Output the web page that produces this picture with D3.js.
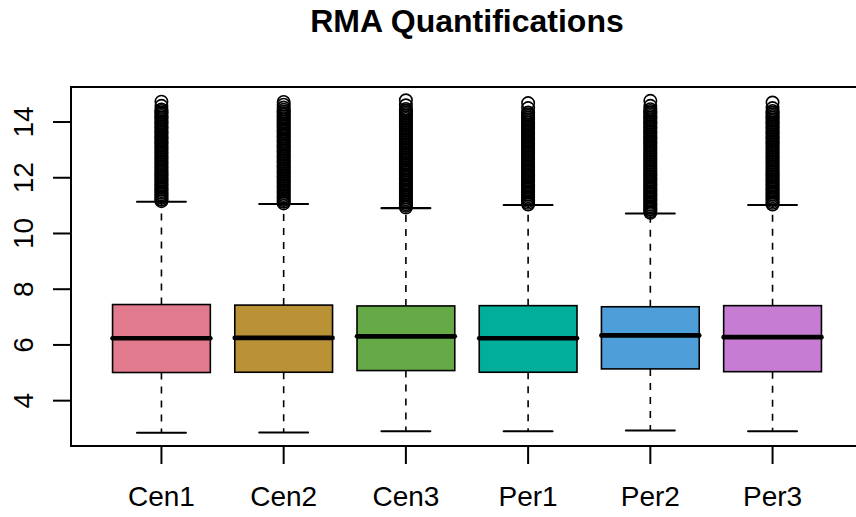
<!DOCTYPE html>
<html>
<head>
<meta charset="utf-8">
<script src="https://cdn.jsdelivr.net/npm/d3@7"></script>
<style>
  body { margin: 0; background: white; }
  svg { display: block; font-family: "Liberation Sans", Arial, Helvetica, sans-serif; }
</style>
</head>
<body>
<svg></svg>
<script>
var samples = ["Cen1", "Cen2", "Cen3", "Per1", "Per2", "Per3"];
var fills = ["#E27A8E", "#B99136", "#65AA47", "#00AE9B", "#4E9EDA", "#C67CD3"];

// box stats
var lowerWhisker = [2.85, 2.86, 2.90, 2.90, 2.93, 2.90];
var q1 = [5.01, 5.02, 5.08, 5.02, 5.14, 5.04];
var medians = [6.24, 6.25, 6.31, 6.24, 6.34, 6.28];
var q3 = [7.45, 7.43, 7.40, 7.41, 7.37, 7.41];
var upperWhisker = [11.14, 11.06, 10.91, 11.02, 10.72, 11.02];

var yTicks = [4, 6, 8, 10, 12, 14];

// outliers (dense column above each upper whisker)
var outCen1 = [11.16,11.22,11.28,11.34,11.40,11.46,11.52,11.58,11.64,11.70,11.76,11.82,11.88,11.94,12.00,12.06,12.12,12.18,12.24,12.30,12.36,12.42,12.48,12.54,12.60,12.66,12.72,12.78,12.84,12.90,12.96,13.02,13.08,13.14,13.20,13.26,13.32,13.38,13.44,13.50,13.56,13.62,13.68,13.74,13.80,13.86,13.92,13.98,14.04,14.10,14.16,14.22,14.28,14.34,14.40,14.45,14.58,14.73];
var outCen2 = [11.08,11.14,11.20,11.26,11.32,11.38,11.44,11.50,11.56,11.62,11.68,11.74,11.80,11.86,11.92,11.98,12.04,12.10,12.16,12.22,12.28,12.34,12.40,12.46,12.52,12.58,12.64,12.70,12.76,12.82,12.88,12.94,13.00,13.06,13.12,13.18,13.24,13.30,13.36,13.42,13.48,13.54,13.60,13.66,13.72,13.78,13.84,13.90,13.96,14.02,14.08,14.14,14.20,14.26,14.32,14.38,14.44,14.52,14.62,14.72];
var outCen3 = [10.93,10.99,11.05,11.11,11.17,11.23,11.29,11.35,11.41,11.47,11.53,11.59,11.65,11.71,11.77,11.83,11.89,11.95,12.01,12.07,12.13,12.19,12.25,12.31,12.37,12.43,12.49,12.55,12.61,12.67,12.73,12.79,12.85,12.91,12.97,13.03,13.09,13.15,13.21,13.27,13.33,13.39,13.45,13.51,13.57,13.63,13.69,13.75,13.81,13.87,13.93,13.99,14.05,14.11,14.17,14.23,14.29,14.35,14.41,14.47,14.60,14.78];
var outPer1 = [11.04,11.10,11.16,11.22,11.28,11.34,11.40,11.46,11.52,11.58,11.64,11.70,11.76,11.82,11.88,11.94,12.00,12.06,12.12,12.18,12.24,12.30,12.36,12.42,12.48,12.54,12.60,12.66,12.72,12.78,12.84,12.90,12.96,13.02,13.08,13.14,13.20,13.26,13.32,13.38,13.44,13.50,13.56,13.62,13.68,13.74,13.80,13.86,13.92,13.98,14.04,14.10,14.16,14.22,14.28,14.34,14.50,14.68];
var outPer2 = [10.74,10.80,10.86,10.92,10.98,11.04,11.10,11.16,11.22,11.28,11.34,11.40,11.46,11.52,11.58,11.64,11.70,11.76,11.82,11.88,11.94,12.00,12.06,12.12,12.18,12.24,12.30,12.36,12.42,12.48,12.54,12.60,12.66,12.72,12.78,12.84,12.90,12.96,13.02,13.08,13.14,13.20,13.26,13.32,13.38,13.44,13.50,13.56,13.62,13.68,13.74,13.80,13.86,13.92,13.98,14.04,14.10,14.16,14.22,14.28,14.34,14.40,14.46,14.58,14.76];
var outPer3 = [11.04,11.10,11.16,11.22,11.28,11.34,11.40,11.46,11.52,11.58,11.64,11.70,11.76,11.82,11.88,11.94,12.00,12.06,12.12,12.18,12.24,12.30,12.36,12.42,12.48,12.54,12.60,12.66,12.72,12.78,12.84,12.90,12.96,13.02,13.08,13.14,13.20,13.26,13.32,13.38,13.44,13.50,13.56,13.62,13.68,13.74,13.80,13.86,13.92,13.98,14.04,14.10,14.16,14.22,14.28,14.34,14.40,14.50,14.70];
var outliers = [outCen1, outCen2, outCen3, outPer1, outPer2, outPer3];

var width = 856, height = 517;
var plot = {left: 71, right: 863, top: 87, bottom: 446};

var svg = d3.select("svg").attr("width", width).attr("height", height);

// R style limits: data range padded by 4%
var yMin = d3.min(lowerWhisker), yMax = d3.max(outliers, function(o){ return d3.max(o); });
var pad = (yMax - yMin) * 0.04;
var y = d3.scaleLinear()
    .domain([yMin - pad, yMax + pad])
    .range([plot.bottom, plot.top]);

var n = samples.length;
var xPad = n * 0.04;
var x = d3.scaleLinear()
    .domain([0.5 - xPad, n + 0.5 + xPad])
    .range([plot.left, plot.right]);

var unit = x(2) - x(1);
var boxW = unit * 0.8;
var capW = boxW * 0.5;
var lw = 1.6;

var boxes = svg.append("g").selectAll("g")
  .data(samples).enter()
  .append("g");

boxes.each(function(d, i) {
  var g = d3.select(this);
  var cx = x(i + 1);

  // whiskers
  g.append("line")
    .attr("x1", cx).attr("x2", cx)
    .attr("y1", y(q3[i])).attr("y2", y(upperWhisker[i]))
    .attr("stroke", "black").attr("stroke-width", lw)
    .attr("stroke-dasharray", "7,7");
  g.append("line")
    .attr("x1", cx).attr("x2", cx)
    .attr("y1", y(q1[i])).attr("y2", y(lowerWhisker[i]))
    .attr("stroke", "black").attr("stroke-width", lw)
    .attr("stroke-dasharray", "7,7");

  // staples
  [upperWhisker[i], lowerWhisker[i]].forEach(function(v) {
    g.append("line")
      .attr("x1", cx - capW / 2).attr("x2", cx + capW / 2)
      .attr("y1", y(v)).attr("y2", y(v))
      .attr("stroke", "black").attr("stroke-width", lw * 1.3)
      .attr("stroke-linecap", "round");
  });

  g.append("rect")
    .attr("x", cx - boxW / 2)
    .attr("y", y(q3[i]))
    .attr("width", boxW)
    .attr("height", y(q1[i]) - y(q3[i]))
    .attr("fill", fills[i])
    .attr("stroke", "black")
    .attr("stroke-width", lw);

  g.append("line")
    .attr("x1", cx - boxW / 2).attr("x2", cx + boxW / 2)
    .attr("y1", y(medians[i])).attr("y2", y(medians[i]))
    .attr("stroke", "black").attr("stroke-width", 4.7)
    .attr("stroke-linecap", "round");

  g.selectAll("circle")
    .data(outliers[i]).enter()
    .append("circle")
    .attr("cx", cx)
    .attr("cy", function(v){ return y(v); })
    .attr("r", 6.2)
    .attr("fill", "none")
    .attr("stroke", "black")
    .attr("stroke-width", lw);
});

// frame
svg.append("rect")
  .attr("x", plot.left).attr("y", plot.top)
  .attr("width", plot.right - plot.left)
  .attr("height", plot.bottom - plot.top)
  .attr("fill", "none")
  .attr("stroke", "black")
  .attr("stroke-width", 2);

// y axis
var yAxis = svg.append("g");
yAxis.append("line")
  .attr("x1", plot.left).attr("x2", plot.left)
  .attr("y1", y(yTicks[0])).attr("y2", y(yTicks[yTicks.length - 1]))
  .attr("stroke", "black").attr("stroke-width", 2);
yAxis.selectAll(".tick")
  .data(yTicks).enter()
  .append("line")
  .attr("x1", plot.left - 18).attr("x2", plot.left)
  .attr("y1", function(d){ return y(d); }).attr("y2", function(d){ return y(d); })
  .attr("stroke", "black").attr("stroke-width", 2);
yAxis.selectAll("text")
  .data(yTicks).enter()
  .append("text")
  .attr("transform", function(d){ return "translate(33," + y(d) + ")rotate(-90)"; })
  .attr("text-anchor", "middle")
  .style("font-size", "28px")
  .text(function(d){ return d; });

// x axis
var xAxis = svg.append("g");
xAxis.selectAll("line")
  .data(samples).enter()
  .append("line")
  .attr("x1", function(d, i){ return x(i + 1); })
  .attr("x2", function(d, i){ return x(i + 1); })
  .attr("y1", plot.bottom).attr("y2", plot.bottom + 18)
  .attr("stroke", "black").attr("stroke-width", 2);
xAxis.selectAll("text")
  .data(samples).enter()
  .append("text")
  .attr("x", function(d, i){ return x(i + 1); })
  .attr("y", 506)
  .attr("text-anchor", "middle")
  .style("font-size", "28px")
  .text(function(d){ return d; });

svg.append("text")
  .attr("x", (plot.left + plot.right) / 2)
  .attr("y", 32)
  .attr("text-anchor", "middle")
  .style("font-size", "32px")
  .style("font-weight", "bold")
  .text("RMA Quantifications");
</script>
</body>
</html>
